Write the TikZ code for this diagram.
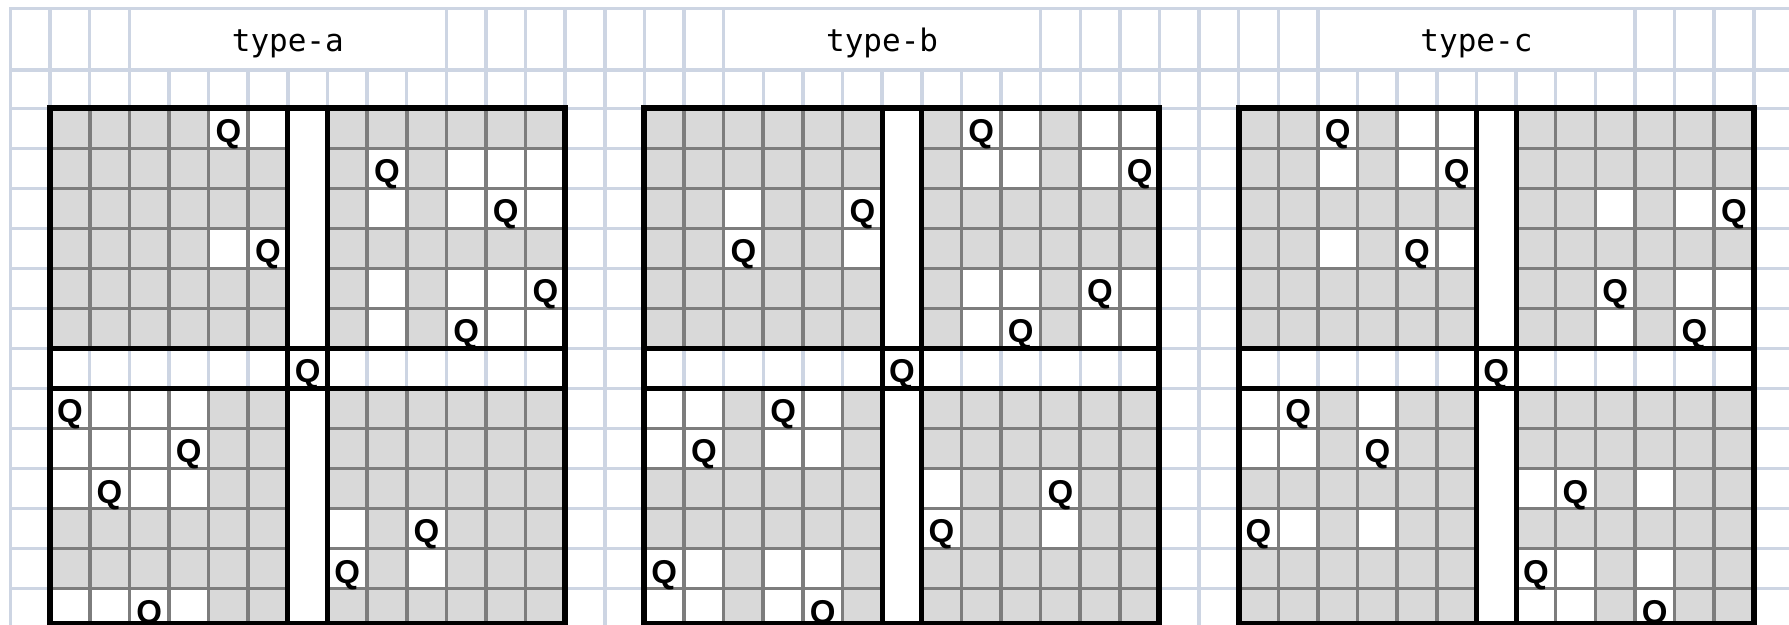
\documentclass[tikz,border=0pt]{standalone}
\usepackage{fontspec}
\newfontfamily\qfont{Liberation Sans}
\newfontfamily\titlefont{DejaVu Sans Mono}
\definecolor{sheet}{HTML}{CDD5E3}
\definecolor{cellgray}{HTML}{D9D9D9}
\definecolor{cellline}{HTML}{7D7D7D}
\def\gw{39.62}
\def\gx{10.5}
\def\gt{108.5}
\def\gb{624}
\tikzset{
  sheetline/.style={draw=sheet, line width=1.75pt, line cap=rect},
  cellrule/.style={draw=cellline, line width=1.8pt},
  heavyrule/.style={draw=black, line width=2.5pt},
  outerrule/.style={draw=black, line width=3pt},
  queen/.style={anchor=base, inner sep=0pt, font=\qfont\bfseries\fontsize{16.5}{16.5}\selectfont},
  titletext/.style={anchor=base, inner sep=0pt, font=\titlefont\fontsize{15.5}{15.5}\selectfont},
}
\newcommand\drawboard[4]{%
  \pgfmathsetmacro\bx{\gx+(1+15*#1)*\gw}
  % quadrant fills
  \fill[cellgray] (\bx,\gt) rectangle ({\bx+6*\gw},{\gt+240});
  \fill[cellgray] ({\bx+7*\gw},\gt) rectangle ({\bx+13*\gw},{\gt+240});
  \fill[cellgray] (\bx,{\gt+280}) rectangle ({\bx+6*\gw},\gb);
  \fill[cellgray] ({\bx+7*\gw},{\gt+280}) rectangle ({\bx+13*\gw},\gb);
  % middle column
  \fill[white] ({\bx+6*\gw},\gt) rectangle ({\bx+7*\gw},\gb);
  % free cells
  \foreach \cl/\rl in {#2}{%
    \foreach \c in \cl {%
      \foreach \r in \rl {%
        \fill[white] ({\bx+\c*\gw},{\gt+40*\r}) rectangle ({\bx+(\c+1)*\gw},{\gt+40*\r+40});
      }}}
  % cell rules
  \foreach \c in {1,2,3,4,5,8,9,10,11,12}{%
    \draw[cellrule] ({\bx+\c*\gw},\gt) -- ({\bx+\c*\gw},{\gt+240});
    \draw[cellrule] ({\bx+\c*\gw},{\gt+280}) -- ({\bx+\c*\gw},\gb);
  }
  \foreach \r in {1,2,3,4,5,8,9,10,11,12}{%
    \draw[cellrule] (\bx,{\gt+40*\r}) -- ({\bx+6*\gw},{\gt+40*\r});
    \draw[cellrule] ({\bx+7*\gw},{\gt+40*\r}) -- ({\bx+13*\gw},{\gt+40*\r});
  }
  % queens
  \foreach \c/\r [count=\i] in {#3}{%
    \node[queen] (#4\i) at ({\bx+(\c+0.5)*\gw},{\gt+40*\r+34.5}) {Q};
  }
  % heavy rules
  \draw[heavyrule] ({\bx+6*\gw},\gt) -- ({\bx+6*\gw},\gb);
  \draw[heavyrule] ({\bx+7*\gw},\gt) -- ({\bx+7*\gw},\gb);
  \draw[heavyrule] (\bx,{\gt+240}) -- ({\bx+13*\gw},{\gt+240});
  \draw[heavyrule] (\bx,{\gt+280}) -- ({\bx+13*\gw},{\gt+280});
  \draw[outerrule] (\bx,\gt) rectangle ({\bx+13*\gw},\gb);
}
\begin{document}
\begin{tikzpicture}[x=0.5pt,y=-0.5pt]
\useasboundingbox (0,0) rectangle (1789,625);
\clip (0,0) rectangle (1789,625);
\fill[white] (0,0) rectangle (1789,625);
% spreadsheet grid
\foreach \k in {0,...,45}{\draw[sheetline] ({\gx+\k*\gw},70) -- ({\gx+\k*\gw},630);}
\foreach \k in {0,1,2,3,11,12,13,14,15,16,17,18,26,27,28,29,30,31,32,33,41,42,43,44,45}{%
  \draw[sheetline] ({\gx+\k*\gw},8.3) -- ({\gx+\k*\gw},70);}
\draw[sheetline] (\gx,8.3) -- (1795,8.3);
\draw[sheetline] (\gx,70) -- (1795,70);
\foreach \j in {0,...,13}{\draw[sheetline] (\gx,{\gt+40*\j}) -- (1795,{\gt+40*\j});}
% titles
\node[titletext] (ta) at ({\gx+7*\gw},51.5) {type-a};
\node[titletext] (tb) at ({\gx+22*\gw},51.5) {type-b};
\node[titletext] (tc) at ({\gx+37*\gw},51.5) {type-c};
% boards
\drawboard{0}{{4,5}/{0,3}, {8,10,11,12}/{1,2,4,5}, {0,1,2,3}/{7,8,9,12}, {7,9}/{10,11}}%
  {4/0,8/1,11/2,5/3,12/4,10/5,6/6,0/7,3/8,1/9,9/10,7/11,2/12}{qa}
\drawboard{1}{{2,5}/{2,3}, {8,9,11,12}/{0,1,4,5}, {0,1,3,4}/{7,8,11,12}, {7,10}/{9,10}}%
  {8/0,12/1,5/2,2/3,11/4,9/5,6/6,3/7,1/8,10/9,7/10,0/11,4/12}{qb}
\drawboard{2}{{2,4,5}/{0,1,3}, {9,11,12}/{2,4,5}, {0,1,3}/{7,8,10}, {7,8,10}/{9,11,12}}%
  {2/0,5/1,12/2,4/3,9/4,11/5,6/6,1/7,3/8,8/9,0/10,7/11,10/12}{qc}
\end{tikzpicture}
\end{document}
